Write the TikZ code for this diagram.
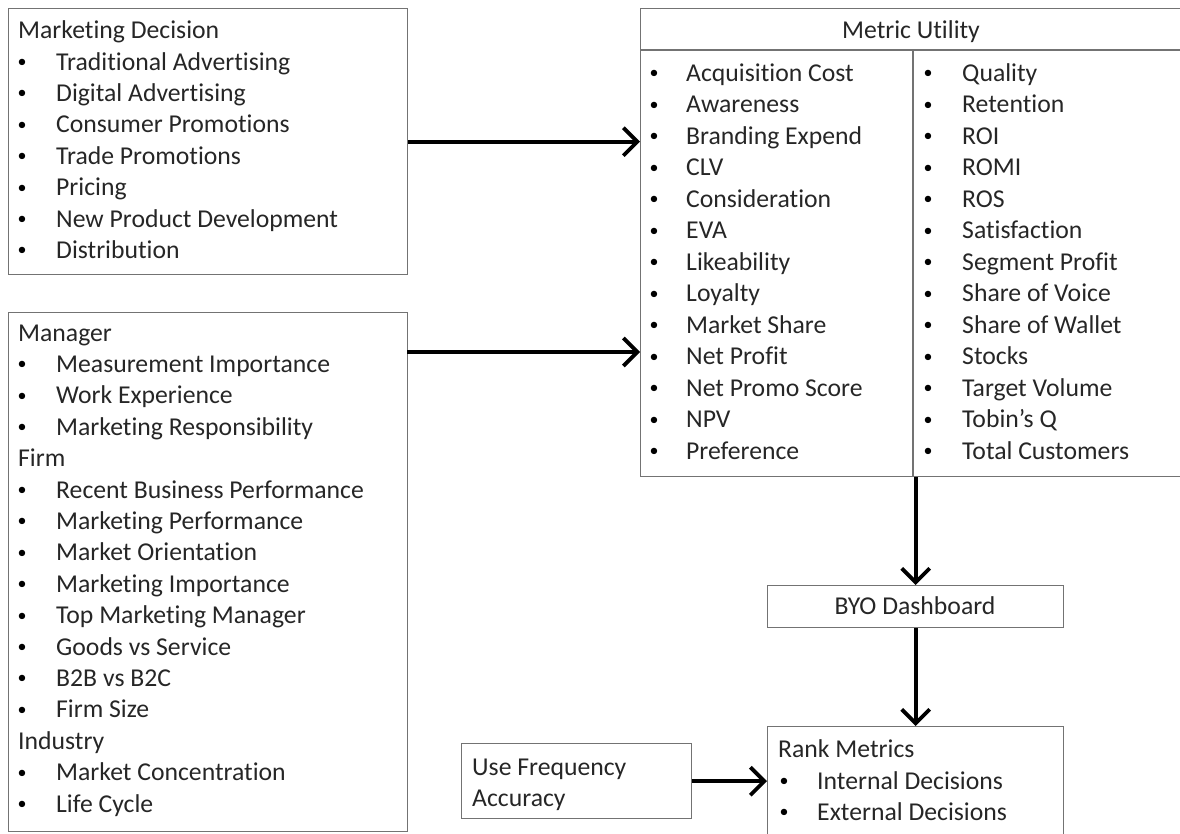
\documentclass[tikz,border=0pt]{standalone}
\usepackage{fontspec}
\setmainfont{Carlito}[Ligatures={NoCommon}]
\usetikzlibrary{arrows.meta}
\tikzset{
  box/.style={draw=black!55, line width=1.4pt, rectangle, inner sep=0pt, anchor=north west},
  inner line/.style={draw=black!55, line width=1.4pt},
  txt/.style={anchor=base west, inner sep=0pt, text=black!85, font=\fontsize{25.7}{31.4}\selectfont},
  ctxt/.style={anchor=base, inner sep=0pt, text=black!85, font=\fontsize{25.7}{31.4}\selectfont},
  bul/.style={anchor=base, inner sep=0pt, yshift=2.5pt, text=black, font=\fontsize{18}{20}\selectfont},
  arr/.style={line width=3.8pt, black, -{Straight Barb[length=14pt,width=28pt]}},
}
\begin{document}
\begin{tikzpicture}[x=1pt,y=-1pt]
\useasboundingbox (0,0) rectangle (1180,833);
\clip (0,0) rectangle (1180,833);

% ---- boxes
\node[box, minimum width=399pt, minimum height=266pt] (md) at (8,8) {};
\node[box, minimum width=399pt, minimum height=519pt] (mgr) at (8,312) {};
\node[box, minimum width=542pt, minimum height=468pt] (mu) at (640,8) {};
\node[box, minimum width=296pt, minimum height=42pt] (byo) at (767,585) {};
\node[box, minimum width=296pt, minimum height=120pt] (rank) at (767,726) {};
\node[box, minimum width=230pt, minimum height=75pt] (uf) at (461,743) {};

% Metric Utility internal lines
\draw[inner line] (640,50) -- (1182,50);
\draw[inner line] (913,50) -- (913,476);

% ---- Marketing Decision
\node[txt] (mdh) at (18,38) {Marketing Decision};
\foreach \t [count=\i from 0] in {Traditional Advertising, Digital Advertising, Consumer Promotions, Trade Promotions, Pricing, New Product Development, Distribution}{
  \node[bul] (mdb\i) at (22,70+31.4*\i) {•};
  \node[txt] (mdt\i) at (56,70+31.4*\i) {\t};
}

% ---- Manager / Firm / Industry
\foreach \t/\b [count=\i from 0] in {Manager/0, Measurement Importance/1, Work Experience/1, Marketing Responsibility/1, Firm/0, Recent Business Performance/1, Marketing Performance/1, Market Orientation/1, Marketing Importance/1, Top Marketing Manager/1, Goods vs Service/1, B2B vs B2C/1, Firm Size/1, Industry/0, Market Concentration/1, Life Cycle/1}{
  \ifnum\b=1
    \node[bul] (mgb\i) at (22,341+31.4*\i) {•};
    \node[txt] (mgt\i) at (56,341+31.4*\i) {\t};
  \else
    \node[txt] (mgt\i) at (18,341+31.4*\i) {\t};
  \fi
}

% ---- Metric Utility
\node[ctxt] (muh) at (911,38) {Metric Utility};
\foreach \t [count=\i from 0] in {Acquisition Cost, Awareness, Branding Expend, CLV, Consideration, EVA, Likeability, Loyalty, Market Share, Net Profit, Net Promo Score, NPV, Preference}{
  \node[bul] (mlb\i) at (654,81+31.5*\i) {•};
  \node[txt] (mlt\i) at (686,81+31.5*\i) {\t};
}
\foreach \t [count=\i from 0] in {Quality, Retention, ROI, ROMI, ROS, Satisfaction, Segment Profit, Share of Voice, Share of Wallet, Stocks, Target Volume, Tobin’s Q, Total Customers}{
  \node[bul] (mrb\i) at (928,81+31.5*\i) {•};
  \node[txt] (mrt\i) at (962,81+31.5*\i) {\t};
}

% ---- BYO Dashboard
\node[ctxt] (byot) at (915,614) {BYO Dashboard};

% ---- Rank Metrics
\node[txt] (rkh) at (778,757) {Rank Metrics};
\node[bul] (rkb0) at (784,789) {•};
\node[txt] (rkt0) at (817,789) {Internal Decisions};
\node[bul] (rkb1) at (784,820) {•};
\node[txt] (rkt1) at (817,820) {External Decisions};

% ---- Use Frequency
\node[txt] (uf1) at (472,775) {Use Frequency};
\node[txt] (uf2) at (472,806) {Accuracy};

% ---- connectors
\coordinate (a2) at (407,352);
\draw[arr] (md.east) -- (md.east -| mu.west);
\draw[arr] (a2) -- (a2 -| mu.west);
\draw[arr] (byo.north |- mu.south) -- (byo.north);
\draw[arr] (byo.south) -- (rank.north);
\draw[arr] (uf.east) -- (uf.east -| rank.west);
\end{tikzpicture}
\end{document}
